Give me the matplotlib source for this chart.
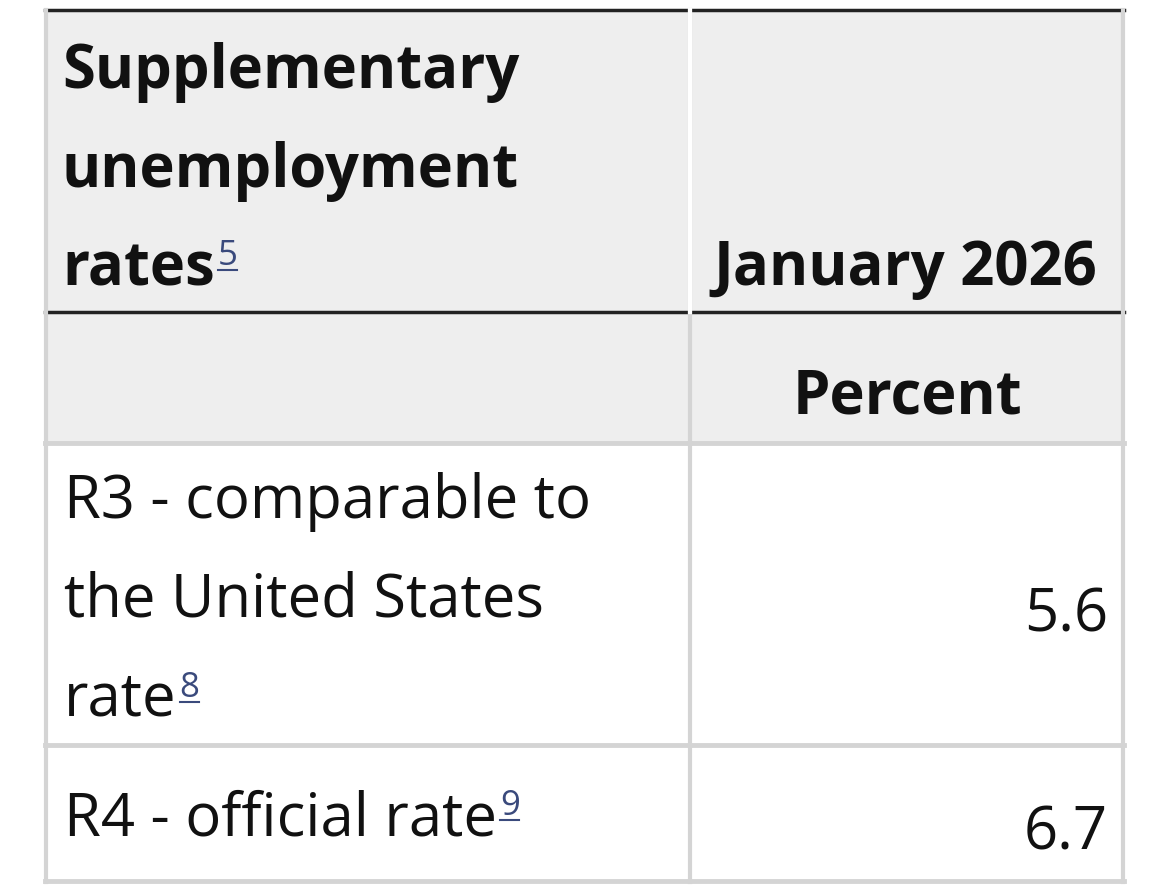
import matplotlib.pyplot as plt
from matplotlib.patches import Rectangle

W, H = 1170, 891
plt.rcParams['font.family'] = ['Open Sans', 'DejaVu Sans']

header_lines = ["Supplementary", "unemployment", "rates"]
header_note = "5"
period = "January 2026"
unit = "Percent"
row_labels = [["R3 - comparable to", "the United States", "rate"], ["R4 - official rate"]]
row_notes = ["8", "9"]
row_values = ["5.6", "6.7"]

fig = plt.figure(figsize=(W / 100, H / 100), dpi=100)
ax = fig.add_axes([0, 0, 1, 1])
ax.set_xlim(0, W)
ax.set_ylim(H, 0)
ax.axis('off')
renderer = fig.canvas.get_renderer()

def box(x0, y0, x1, y1, color):
    ax.add_patch(Rectangle((x0, y0), x1 - x0, y1 - y0, color=color, lw=0))

# backgrounds
box(47, 10, 688, 312, '#eeeeee')
box(691, 10, 1122, 312, '#eeeeee')
box(47, 314, 688, 442, '#eeeeee')
box(691, 314, 1122, 442, '#eeeeee')

# grid lines
ax.plot([45, 1124], [10, 10], color='#222222', lw=2.5)
ax.plot([45, 1124], [312, 312], color='#222222', lw=2.5)
for y in (443, 745, 881):
    ax.plot([45, 1124], [y, y], color='#d4d4d4', lw=3.5)
for x in (46, 689.5, 1123):
    ax.plot([x, x], [10, 882], color='#d4d4d4', lw=3)
ax.plot([689.5, 689.5], [10, 312], color='#ffffff', lw=3)

fs = 43
note_color = '#3a4a7c'

def note_after(t, y, s):
    # superscript placed right after the text t
    x = t.get_window_extent(renderer).x1 + 3
    ax.text(x, y, s, fontsize=25, color=note_color, va='baseline')
    ax.plot([x, x + 19], [y + 5, y + 5], color=note_color, lw=1.5)

for i, line in enumerate(header_lines):
    t = ax.text(62, 88 + 98.5 * i, line, fontsize=fs, fontweight='bold', color='#111111', va='baseline')
note_after(t, 265, header_note)
ax.text(1097, 285, period, fontsize=fs, fontweight='bold', color='#111111', va='baseline', ha='right')
ax.text(907, 413, unit, fontsize=fs, fontweight='bold', color='#111111', va='baseline', ha='center')

for i, line in enumerate(row_labels[0]):
    t = ax.text(64, 518 + 98.5 * i, line, fontsize=fs, color='#111111', va='baseline')
note_after(t, 697, row_notes[0])
ax.text(1108, 632, row_values[0], fontsize=fs, color='#111111', va='baseline', ha='right')

t = ax.text(64, 835, row_labels[1][0], fontsize=fs, color='#111111', va='baseline')
note_after(t, 815, row_notes[1])
ax.text(1108, 850, row_values[1], fontsize=fs, color='#111111', va='baseline', ha='right')

fig.savefig('out.png', dpi=100)
